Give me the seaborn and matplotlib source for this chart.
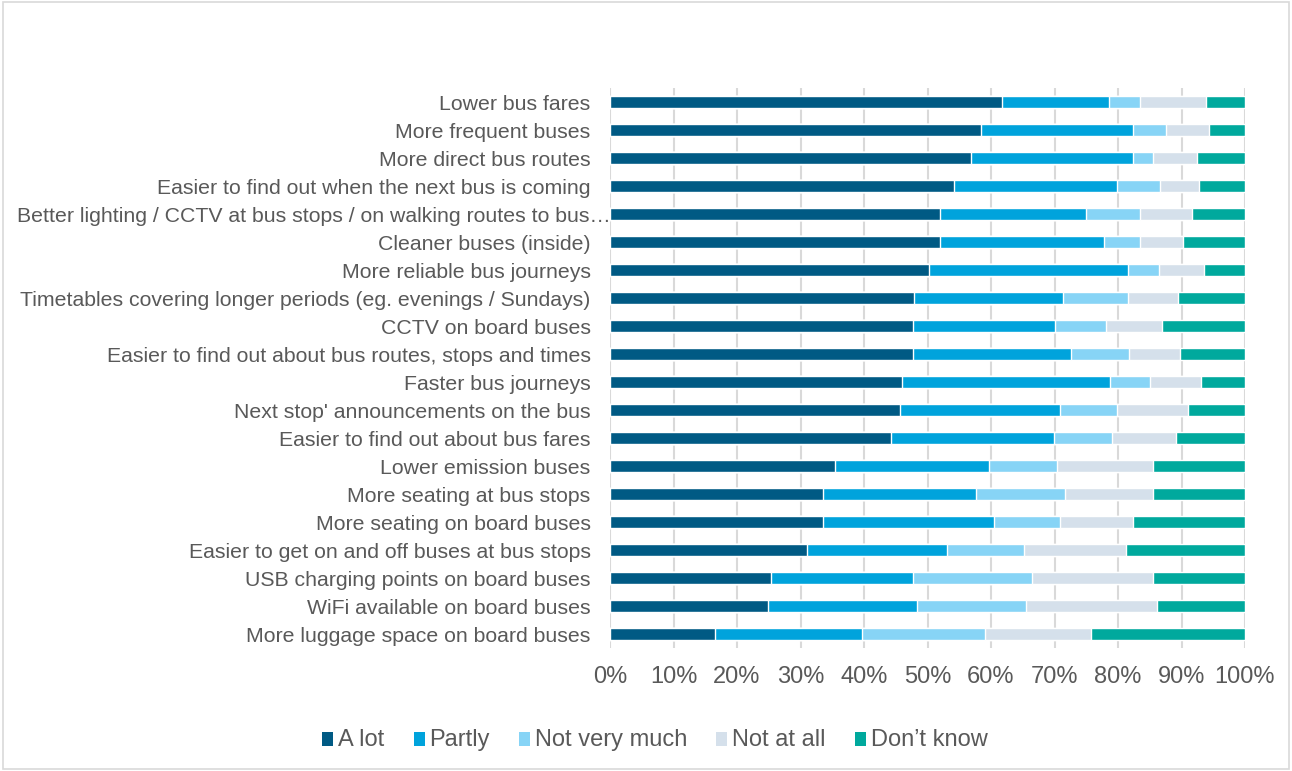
import numpy as np
import pandas as pd
import matplotlib
matplotlib.use('Agg')
import matplotlib.pyplot as plt
import matplotlib.patches as mpatches
import matplotlib.transforms as mtransforms
import seaborn as sns

categories = [
    'Lower bus fares',
    'More frequent buses',
    'More direct bus routes',
    'Easier to find out when the next bus is coming',
    'Better lighting / CCTV at bus stops / on walking routes to bus\u2026',
    'Cleaner buses (inside)',
    'More reliable bus journeys',
    'Timetables covering longer periods (eg. evenings / Sundays)',
    'CCTV on board buses',
    'Easier to find out about bus routes, stops and times',
    'Faster bus journeys',
    "Next stop' announcements on the bus",
    'Easier to find out about bus fares',
    'Lower emission buses',
    'More seating at bus stops',
    'More seating on board buses',
    'Easier to get on and off buses at bus stops',
    'USB charging points on board buses',
    'WiFi available on board buses',
    'More luggage space on board buses',
]

a_lot = [61.7, 58.5, 56.8, 54.1, 51.9, 51.9, 50.3, 47.9, 47.7, 47.7,
         46.0, 45.6, 44.3, 35.4, 33.6, 33.6, 31.0, 25.3, 24.9, 16.6]
partly = [16.9, 23.9, 25.5, 25.8, 23.1, 25.9, 31.2, 23.5, 22.4, 24.9,
          32.8, 25.3, 25.6, 24.3, 24.1, 26.8, 22.1, 22.4, 23.5, 23.1]
not_very_much = [4.9, 5.2, 3.2, 6.7, 8.5, 5.7, 4.9, 10.1, 8.0, 9.1,
                 6.3, 9.0, 9.2, 10.7, 14.0, 10.5, 12.1, 18.8, 17.1, 19.3]
not_at_all = [10.3, 6.7, 7.0, 6.1, 8.2, 6.7, 7.2, 8.0, 8.8, 8.0,
              7.9, 11.1, 10.0, 15.1, 13.8, 11.4, 16.0, 19.0, 20.6, 16.8]
dont_know = [6.2, 5.7, 7.5, 7.3, 8.3, 9.8, 6.4, 10.5, 13.1, 10.3,
             7.0, 9.0, 10.9, 14.5, 14.5, 17.7, 18.8, 14.5, 13.9, 24.2]

series_names = ['A lot', 'Partly', 'Not very much', 'Not at all', 'Don\u2019t know']
colors = ['#005A84', '#00A3DC', '#87D4F6', '#D5E0EB', '#00A99D']

df = pd.DataFrame({
    'category': categories,
    'A lot': a_lot,
    'Partly': partly,
    'Not very much': not_very_much,
    'Not at all': not_at_all,
    'Don\u2019t know': dont_know,
})
vals = df[series_names].to_numpy()
vals = vals / vals.sum(axis=1, keepdims=True) * 100
cum = np.cumsum(vals, axis=1)

sns.set_style('white')
plt.rcParams['font.family'] = ['Liberation Sans', 'DejaVu Sans']
text_color = '#595959'

W, H = 1292, 771
fig = plt.figure(figsize=(W / 100, H / 100), dpi=100)
ax = fig.add_axes([610 / W, 1 - 648 / H, 635 / W, 560 / H])

# stacked look: draw cumulative totals from widest to narrowest
for i in reversed(range(len(series_names))):
    sns.barplot(x=cum[:, i], y=df['category'], color=colors[i], orient='h',
                width=0.43, ax=ax, zorder=2, saturation=1)

ax.set_xlim(0, 100)
ax.set_xticks(np.arange(0, 101, 10))
ax.set_xticklabels([f'{t}%' for t in range(0, 101, 10)])
ax.xaxis.grid(True, color='#D9D9D9', linewidth=1.5, zorder=0)
ax.set_axisbelow(True)
ax.set_xlabel('')
ax.set_ylabel('')
for s in ax.spines.values():
    s.set_visible(False)
ax.tick_params(axis='x', length=0, pad=13, labelsize=17, labelcolor=text_color)
ax.tick_params(axis='y', length=0, pad=14, labelsize=15.35, labelcolor=text_color)

# the truncated label overflows to the right like in the original
for lbl in ax.get_yticklabels():
    if lbl.get_text().endswith('\u2026'):
        lbl.set_transform(lbl.get_transform() + mtransforms.ScaledTranslation(0.2, 0, fig.dpi_scale_trans))

# legend drawn by hand so the labels share one baseline
renderer = fig.canvas.get_renderer()
box_w, box_h, gap, col_gap = 11, 14, 5, 29
baseline = 746
texts, widths = [], []
for name in series_names:
    t = fig.text(0, 1 - baseline / H, name, fontsize=17, color=text_color, va='baseline', ha='left')
    texts.append(t)
    widths.append(t.get_window_extent(renderer).width)
total = sum(box_w + gap + w for w in widths) + col_gap * (len(widths) - 1)
x = 655 - total / 2
for c, t, w in zip(colors, texts, widths):
    fig.patches.append(mpatches.Rectangle((x / W, 1 - baseline / H), box_w / W, box_h / H,
                                          transform=fig.transFigure, facecolor=c, edgecolor='none'))
    t.set_x((x + box_w + gap) / W)
    x += box_w + gap + w + col_gap

fig.patches.append(mpatches.Rectangle((0.002, 0.002), 0.996, 0.996, transform=fig.transFigure,
                                      fill=False, edgecolor='#D9D9D9', linewidth=1.2))

fig.savefig('out.png', dpi=100)
